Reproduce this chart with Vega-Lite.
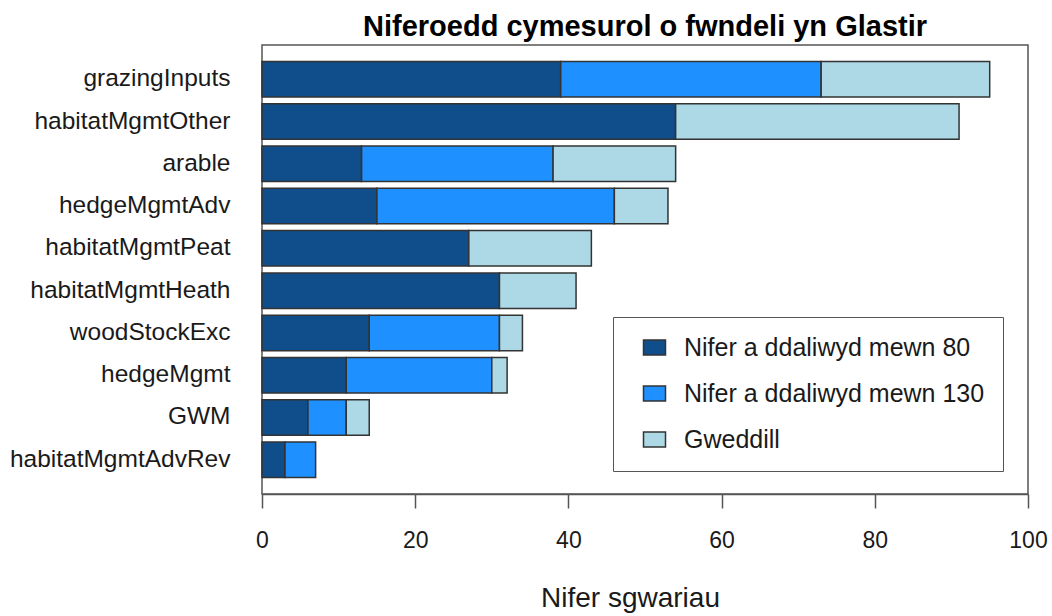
{
  "$schema": "https://vega.github.io/schema/vega-lite/v6.json",
  "width": 766,
  "height": 449,
  "autosize": {"type": "none"},
  "padding": {"left": 262, "top": 45, "right": 24, "bottom": 122},
  "background": "white",
  "title": {
    "text": "Niferoedd cymesurol o fwndeli yn Glastir",
    "font": "Liberation Sans",
    "fontSize": 29,
    "fontWeight": "bold",
    "color": "#000000",
    "anchor": "middle",
    "frame": "group",
    "baseline": "alphabetic",
    "offset": 10,
    "dy": 30
  },
  "data": {
    "values": [
      {"cat": "grazingInputs", "grp": "Nifer a ddaliwyd mewn 80", "o": 1, "n": 39},
      {"cat": "grazingInputs", "grp": "Nifer a ddaliwyd mewn 130", "o": 2, "n": 34},
      {"cat": "grazingInputs", "grp": "Gweddill", "o": 3, "n": 22},
      {"cat": "habitatMgmtOther", "grp": "Nifer a ddaliwyd mewn 80", "o": 1, "n": 54},
      {"cat": "habitatMgmtOther", "grp": "Gweddill", "o": 3, "n": 37},
      {"cat": "arable", "grp": "Nifer a ddaliwyd mewn 80", "o": 1, "n": 13},
      {"cat": "arable", "grp": "Nifer a ddaliwyd mewn 130", "o": 2, "n": 25},
      {"cat": "arable", "grp": "Gweddill", "o": 3, "n": 16},
      {"cat": "hedgeMgmtAdv", "grp": "Nifer a ddaliwyd mewn 80", "o": 1, "n": 15},
      {"cat": "hedgeMgmtAdv", "grp": "Nifer a ddaliwyd mewn 130", "o": 2, "n": 31},
      {"cat": "hedgeMgmtAdv", "grp": "Gweddill", "o": 3, "n": 7},
      {"cat": "habitatMgmtPeat", "grp": "Nifer a ddaliwyd mewn 80", "o": 1, "n": 27},
      {"cat": "habitatMgmtPeat", "grp": "Gweddill", "o": 3, "n": 16},
      {"cat": "habitatMgmtHeath", "grp": "Nifer a ddaliwyd mewn 80", "o": 1, "n": 31},
      {"cat": "habitatMgmtHeath", "grp": "Gweddill", "o": 3, "n": 10},
      {"cat": "woodStockExc", "grp": "Nifer a ddaliwyd mewn 80", "o": 1, "n": 14},
      {"cat": "woodStockExc", "grp": "Nifer a ddaliwyd mewn 130", "o": 2, "n": 17},
      {"cat": "woodStockExc", "grp": "Gweddill", "o": 3, "n": 3},
      {"cat": "hedgeMgmt", "grp": "Nifer a ddaliwyd mewn 80", "o": 1, "n": 11},
      {"cat": "hedgeMgmt", "grp": "Nifer a ddaliwyd mewn 130", "o": 2, "n": 19},
      {"cat": "hedgeMgmt", "grp": "Gweddill", "o": 3, "n": 2},
      {"cat": "GWM", "grp": "Nifer a ddaliwyd mewn 80", "o": 1, "n": 6},
      {"cat": "GWM", "grp": "Nifer a ddaliwyd mewn 130", "o": 2, "n": 5},
      {"cat": "GWM", "grp": "Gweddill", "o": 3, "n": 3},
      {"cat": "habitatMgmtAdvRev", "grp": "Nifer a ddaliwyd mewn 80", "o": 1, "n": 3},
      {"cat": "habitatMgmtAdvRev", "grp": "Nifer a ddaliwyd mewn 130", "o": 2, "n": 4}
    ]
  },
  "mark": {"type": "bar", "stroke": "#333333", "strokeWidth": 1.5},
  "encoding": {
    "y": {
      "field": "cat",
      "type": "nominal",
      "sort": ["grazingInputs", "habitatMgmtOther", "arable", "hedgeMgmtAdv", "habitatMgmtPeat", "habitatMgmtHeath", "woodStockExc", "hedgeMgmt", "GWM", "habitatMgmtAdvRev"],
      "scale": {"paddingInner": 0.16, "paddingOuter": 0.39},
      "axis": {
        "title": null,
        "domain": false,
        "ticks": false,
        "tickSize": 0,
        "labelPadding": 32,
        "labelLimit": 300,
        "labelFont": "Liberation Sans",
        "labelFontSize": 24.5,
        "labelColor": "#1a1a1a"
      }
    },
    "x": {
      "field": "n",
      "type": "quantitative",
      "stack": "zero",
      "scale": {"domain": [0, 100], "nice": false, "zero": true},
      "axis": {
        "title": "Nifer sgwariau",
        "titleFont": "Liberation Sans",
        "titleFontSize": 28,
        "titleFontWeight": "normal",
        "titleColor": "#1a1a1a",
        "titleBaseline": "alphabetic",
        "titleAnchor": "start",
        "titleAlign": "center",
        "titleX": 368,
        "titleY": 112,
        "values": [0, 20, 40, 60, 80, 100],
        "grid": false,
        "domainColor": "#555555",
        "domainWidth": 1.5,
        "tickColor": "#555555",
        "tickWidth": 1.5,
        "tickSize": 14,
        "labelPadding": 21,
        "labelFont": "Liberation Sans",
        "labelFontSize": 23,
        "labelColor": "#1a1a1a",
        "labelFlush": false
      }
    },
    "color": {
      "field": "grp",
      "type": "nominal",
      "scale": {
        "domain": ["Nifer a ddaliwyd mewn 80", "Nifer a ddaliwyd mewn 130", "Gweddill"],
        "range": ["#104E8B", "#1E90FF", "#ADD8E6"]
      },
      "legend": {
        "title": null,
        "orient": "none",
        "legendX": 351,
        "legendY": 272,
        "direction": "vertical",
        "padding": 18,
        "strokeColor": "#555555",
        "fillColor": "white",
        "symbolType": "M-1,-0.68H1V0.68H-1Z",
        "symbolSize": 484,
        "symbolStrokeColor": "#333333",
        "symbolStrokeWidth": 1.5,
        "symbolOpacity": 1,
        "symbolOffset": 11,
        "labelOffset": 17,
        "rowPadding": 20,
        "labelFont": "Liberation Sans",
        "labelFontSize": 25,
        "labelColor": "#1a1a1a",
        "labelLimit": 400
      }
    },
    "order": {"field": "o", "type": "quantitative"}
  },
  "config": {
    "view": {"stroke": "#555555", "strokeWidth": 1.5},
    "font": "Liberation Sans"
  }
}
